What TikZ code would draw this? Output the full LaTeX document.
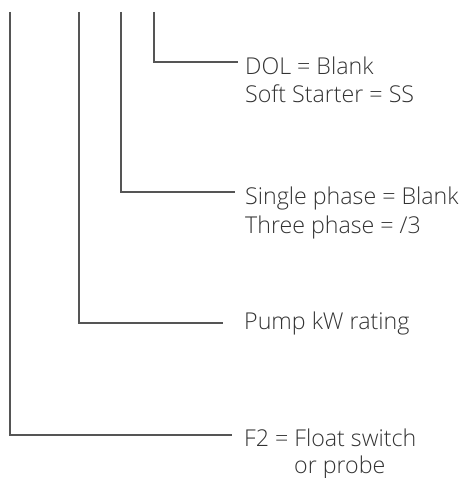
\documentclass[tikz,border=0pt]{standalone}
\usepackage{fontspec}
\setmainfont{Open Sans Light}
\definecolor{txtgray}{HTML}{333333}
\definecolor{lngray}{HTML}{555555}
\begin{document}
\begin{tikzpicture}[x=1pt,y=1pt,
  lbl/.style={anchor=base west,inner sep=0pt,text=txtgray,font=\fontsize{23.2}{28}\selectfont},
  conn/.style={draw=lngray,line width=1.3pt}]
\useasboundingbox (0,0) rectangle (463,478);
% labels
\node[lbl] (dol) at (245,403) {DOL = Blank};
\node[lbl] (ss) at (245,375) {Soft Starter = SS};
\node[lbl] (single) at (245,273) {Single phase = Blank};
\node[lbl] (three) at (245,244) {Three phase = /3};
\node[lbl] (pump) at (244,148) {Pump kW rating};
\node[lbl] (f2) at (244,31) {F2 = Float switch};
\node[lbl] (probe) at (294,5) {or probe};
% connector ends
\coordinate (tA) at (10,466);
\coordinate (tB) at (79,466);
\coordinate (tC) at (121,466);
\coordinate (tD) at (154,466);
\coordinate (eD) at (238,416);
\coordinate (eC) at (235,286);
\coordinate (eB) at (223,155);
\coordinate (eA) at (232,43);
\draw[conn] (tD) |- (eD);
\draw[conn] (tC) |- (eC);
\draw[conn] (tB) |- (eB);
\draw[conn] (tA) |- (eA);
\end{tikzpicture}
\end{document}
